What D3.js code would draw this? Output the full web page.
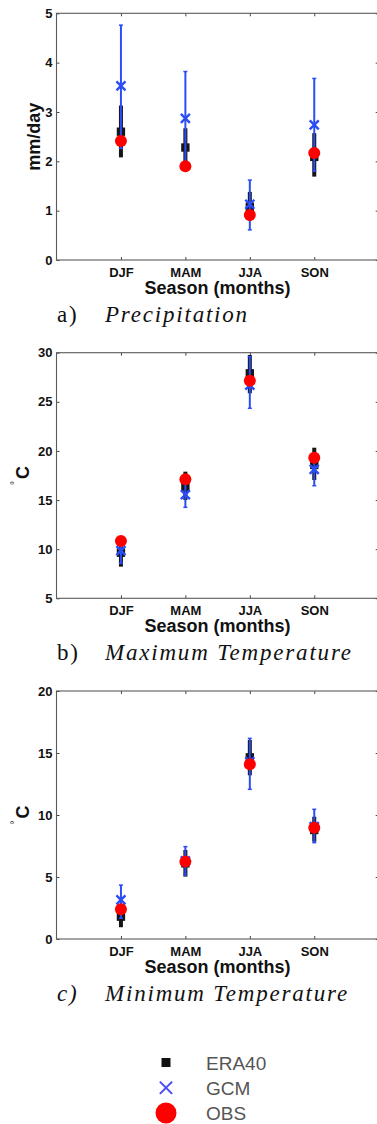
<!DOCTYPE html>
<html>
<head>
<meta charset="utf-8">
<script src="https://cdn.jsdelivr.net/npm/d3@7"></script>
<style>
  body { margin: 0; background: #fff; }
  svg { display: block; }
</style>
</head>
<body>
<div id="chart"></div>
<script>
const seasons = ['DJF', 'MAM', 'JJA', 'SON'];

// a) Precipitation, mm/day
const prEra40 = [2.60, 2.28, 1.08, 2.09];
const prEra40Lo = [2.08, 1.95, 0.80, 1.69];
const prEra40Hi = [3.13, 2.67, 1.38, 2.57];
const prGcm = [3.53, 2.87, 1.13, 2.74];
const prGcmLo = [2.26, 1.92, 0.61, 1.80];
const prGcmHi = [4.76, 3.82, 1.62, 3.68];
const prObs = [2.41, 1.90, 0.91, 2.17];
const prTicks = [0, 1, 2, 3, 4, 5];

// b) Maximum temperature, degC
const txEra40 = [9.64, 16.36, 27.90, 18.57];
const txEra40Lo = [8.22, 15.00, 25.87, 17.04];
const txEra40Hi = [10.30, 17.89, 29.77, 20.33];
const txGcm = [9.85, 15.55, 26.70, 18.13];
const txGcmLo = [8.56, 14.26, 24.34, 16.46];
const txGcmHi = [10.25, 16.70, 29.60, 19.60];
const txObs = [10.83, 17.11, 27.15, 19.31];
const txTicks = [5, 10, 15, 20, 25, 30];

// c) Minimum temperature, degC
const tnEra40 = [1.80, 6.10, 14.65, 8.79];
const tnEra40Lo = [0.95, 5.03, 13.20, 7.85];
const tnEra40Hi = [2.80, 7.18, 16.05, 9.86];
const tnGcm = [3.15, 6.30, 14.30, 9.06];
const tnGcmLo = [1.67, 5.16, 12.07, 7.77];
const tnGcmHi = [4.35, 7.45, 16.18, 10.46];
const tnObs = [2.39, 6.24, 14.09, 8.98];
const tnTicks = [0, 5, 10, 15, 20];

const legendLabels = ['ERA40', 'GCM', 'OBS'];

const W = 377, H = 1124;
const plotLeft = 56.5, plotRight = 378.7;
const BLUE = '#2a4df5', RED = '#ff0000', BLACK = '#151515';

const svg = d3.select('#chart')
    .append('svg')
    .attr('width', W)
    .attr('height', H)
    .attr('viewBox', `0 0 ${W} ${H}`);

const panels = [
    { top: 13.3, bottom: 260, ticks: prTicks, ylabel: 'mm/day', tag: 'a)', tagItalic: false, title: 'Precipitation',
      era: prEra40, eraLo: prEra40Lo, eraHi: prEra40Hi, gcm: prGcm, gcmLo: prGcmLo, gcmHi: prGcmHi, obs: prObs },
    { top: 352.7, bottom: 598.3, ticks: txTicks, ylabel: 'degC', tag: 'b)', tagItalic: false, title: 'Maximum Temperature',
      era: txEra40, eraLo: txEra40Lo, eraHi: txEra40Hi, gcm: txGcm, gcmLo: txGcmLo, gcmHi: txGcmHi, obs: txObs },
    { top: 691, bottom: 939, ticks: tnTicks, ylabel: 'degC', tag: 'c)', tagItalic: true, title: 'Minimum Temperature',
      era: tnEra40, eraLo: tnEra40Lo, eraHi: tnEra40Hi, gcm: tnGcm, gcmLo: tnGcmLo, gcmHi: tnGcmHi, obs: tnObs }
];

const sans = '"Liberation Sans", Arial, Helvetica, sans-serif';
const serif = '"Liberation Serif", "Times New Roman", Times, serif';

const drawPanel = (p) => {
    const g = svg.append('g');
    const x = d3.scalePoint().domain(seasons).range([plotLeft, plotRight]).padding(1);
    const y = d3.scaleLinear()
        .domain([p.ticks[0], p.ticks[p.ticks.length - 1]])
        .range([p.bottom, p.top]);

    // Axes, MATLAB style: ticks point inward, box all round
    const styleAxis = (sel) => {
        sel.select('.domain').remove();
        sel.selectAll('.tick line').attr('stroke', '#444');
        sel.selectAll('text')
            .attr('font-family', sans)
            .attr('font-weight', 'bold')
            .attr('font-size', 13)
            .attr('fill', '#111');
    };

    g.append('g')
        .attr('transform', `translate(0,${p.bottom})`)
        .call(d3.axisBottom(x).tickSize(-3).tickPadding(7.5))
        .call(styleAxis);
    g.append('g')
        .attr('transform', `translate(0,${p.top})`)
        .call(d3.axisTop(x).tickSize(-3).tickFormat(''))
        .call(styleAxis);
    g.append('g')
        .attr('transform', `translate(${plotLeft},0)`)
        .call(d3.axisLeft(y).tickValues(p.ticks).tickFormat(d3.format('d')).tickSize(-3).tickPadding(4))
        .call(styleAxis);
    g.append('g')
        .attr('transform', `translate(${plotRight},0)`)
        .call(d3.axisRight(y).tickValues(p.ticks).tickSize(-3).tickFormat(''))
        .call(styleAxis);

    g.append('rect')
        .attr('x', plotLeft)
        .attr('y', p.top)
        .attr('width', plotRight - plotLeft)
        .attr('height', p.bottom - p.top)
        .attr('fill', 'none')
        .attr('stroke', '#5a5a5a')
        .attr('stroke-width', 1.1);

    // y label
    const midY = (p.top + p.bottom) / 2;
    if (p.ylabel === 'mm/day') {
        g.append('text')
            .attr('transform', `translate(39.5,${midY}) rotate(-90)`)
            .attr('text-anchor', 'middle')
            .attr('font-family', sans)
            .attr('font-weight', 'bold')
            .attr('font-size', 18)
            .attr('fill', '#111')
            .text('mm/day');
    } else {
        const t = g.append('text')
            .attr('transform', `translate(28.5,${midY}) rotate(-90)`)
            .attr('text-anchor', 'middle')
            .attr('font-family', sans)
            .attr('font-weight', 'bold')
            .attr('font-size', 18)
            .attr('fill', '#111');
        t.append('tspan')
            .attr('font-size', 10)
            .attr('font-weight', 'normal')
            .attr('dy', -11)
            .text('\u00b0');
        t.append('tspan')
            .attr('dy', 11)
            .attr('dx', 2)
            .text('C');
    }

    // x label
    g.append('text')
        .attr('x', (plotLeft + plotRight) / 2)
        .attr('y', p.bottom + 34)
        .attr('text-anchor', 'middle')
        .attr('font-family', sans)
        .attr('font-weight', 'bold')
        .attr('font-size', 18)
        .attr('fill', '#111')
        .text('Season (months)');

    // caption under the panel
    g.append('text')
        .attr('x', 57)
        .attr('y', p.bottom + 62)
        .attr('font-family', serif)
        .attr('font-size', 23)
        .attr('font-style', p.tagItalic ? 'italic' : 'normal')
        .attr('letter-spacing', 1.8)
        .attr('fill', '#111')
        .text(p.tag);
    g.append('text')
        .attr('x', 105)
        .attr('y', p.bottom + 62)
        .attr('font-family', serif)
        .attr('font-size', 23)
        .attr('font-style', 'italic')
        .attr('letter-spacing', 1.8)
        .attr('fill', '#111')
        .text(p.title);

    const rows = seasons.map((s, i) => ({
        s,
        era: p.era[i], eraLo: p.eraLo[i], eraHi: p.eraHi[i],
        gcm: p.gcm[i], gcmLo: p.gcmLo[i], gcmHi: p.gcmHi[i],
        obs: p.obs[i]
    }));

    // ERA40: thick black range + square
    const era = g.append('g');
    era.selectAll('line.bar')
        .data(rows).join('line')
        .attr('class', 'bar')
        .attr('x1', (d) => x(d.s)).attr('x2', (d) => x(d.s))
        .attr('y1', (d) => y(d.eraLo)).attr('y2', (d) => y(d.eraHi))
        .attr('stroke', BLACK).attr('stroke-width', 4);
    era.selectAll('path')
        .data(rows).join('path')
        .attr('transform', (d) => `translate(${x(d.s)},${y(d.era)})`)
        .attr('d', d3.symbol(d3.symbolSquare, 70))
        .attr('fill', BLACK);

    // GCM: thin blue range with caps + cross
    const gcm = g.append('g');
    gcm.selectAll('line.bar')
        .data(rows).join('line')
        .attr('class', 'bar')
        .attr('x1', (d) => x(d.s)).attr('x2', (d) => x(d.s))
        .attr('y1', (d) => y(d.gcmLo)).attr('y2', (d) => y(d.gcmHi))
        .attr('stroke', BLUE).attr('stroke-width', 2);
    ['gcmLo', 'gcmHi'].forEach((k) => {
        gcm.selectAll(`line.${k}`)
            .data(rows).join('line')
            .attr('class', k)
            .attr('x1', (d) => x(d.s) - 2).attr('x2', (d) => x(d.s) + 2)
            .attr('y1', (d) => y(d[k])).attr('y2', (d) => y(d[k]))
            .attr('stroke', BLUE).attr('stroke-width', 1.5);
    });
    gcm.selectAll('path')
        .data(rows).join('path')
        .attr('transform', (d) => `translate(${x(d.s)},${y(d.gcm)})`)
        .attr('d', d3.symbol(d3.symbolX, 55))
        .attr('fill', 'none')
        .attr('stroke', BLUE)
        .attr('stroke-width', 2.4);

    // OBS: red dots
    g.append('g').selectAll('circle')
        .data(rows).join('circle')
        .attr('cx', (d) => x(d.s))
        .attr('cy', (d) => y(d.obs))
        .attr('r', 6)
        .attr('fill', RED);
};

panels.forEach(drawPanel);

// Legend
const legendY = d3.scalePoint().domain(legendLabels).range([1062.5, 1113]);
const legend = svg.append('g');
legend.append('path')
    .attr('transform', `translate(166,${legendY('ERA40')})`)
    .attr('d', d3.symbol(d3.symbolSquare, 81))
    .attr('fill', '#111');
legend.append('path')
    .attr('transform', `translate(166,${legendY('GCM')})`)
    .attr('d', d3.symbol(d3.symbolX, 100))
    .attr('fill', 'none')
    .attr('stroke', '#4a4aff')
    .attr('stroke-width', 2);
legend.append('circle')
    .attr('cx', 166)
    .attr('cy', legendY('OBS'))
    .attr('r', 10.5)
    .attr('fill', RED);
legend.selectAll('text')
    .data(legendLabels).join('text')
    .attr('x', 206)
    .attr('y', (d) => legendY(d) + 7)
    .attr('font-family', sans)
    .attr('font-size', 19)
    .attr('fill', '#555')
    .text((d) => d);
</script>
</body>
</html>
